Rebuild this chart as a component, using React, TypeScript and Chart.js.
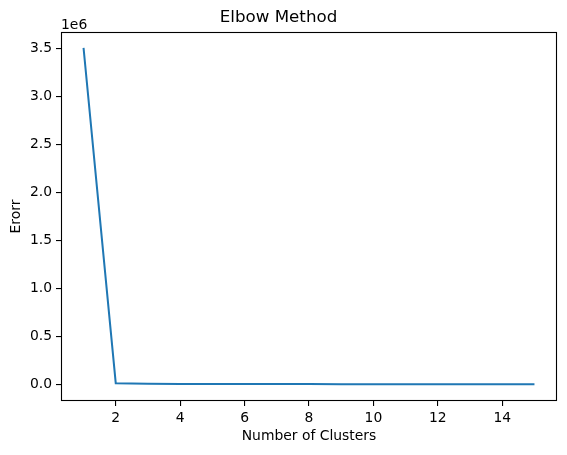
import React, { useEffect, useRef } from "react";
import { Chart, registerables } from "chart.js";

Chart.register(...registerables);

const clusters = [1, 2, 3, 4, 5, 6, 7, 8, 9, 10, 11, 12, 13, 14, 15];
const errors = [3510000, 11000, 5500, 3200, 2200, 1700, 1400, 1150, 950, 800, 700, 620, 550, 490, 440];
const xTicks = [2, 4, 6, 8, 10, 12, 14];
const yTicks = [0, 500000, 1000000, 1500000, 2000000, 2500000, 3000000, 3500000];

const FONT = "'DejaVu Sans', sans-serif";
const FS = 13.9;

const framePlugin = {
  id: "frame",
  afterDraw(chart: any) {
    const { ctx, chartArea } = chart;
    ctx.save();
    ctx.strokeStyle = "#000";
    ctx.lineWidth = 1.1;
    const l = Math.round(chartArea.left) + 0.5;
    const t = Math.round(chartArea.top) + 0.5;
    const r = Math.round(chartArea.right) - 0.5;
    const b = Math.round(chartArea.bottom) - 0.5;
    ctx.strokeRect(l, t, r - l, b - t);
    ctx.fillStyle = "#000";
    ctx.font = `${FS}px ${FONT}`;
    ctx.textAlign = "left";
    ctx.textBaseline = "alphabetic";
    ctx.fillText("1e6", chartArea.left, chartArea.top - 3);
    ctx.restore();
  },
};

export default function App() {
  const ref = useRef<HTMLCanvasElement>(null);
  useEffect(() => {
    if (!ref.current) return;
    const chart = new Chart(ref.current, {
      type: "line",
      data: {
        datasets: [
          {
            data: clusters.map((c, i) => ({ x: c, y: errors[i] })),
            borderColor: "#1f77b4",
            borderWidth: 2,
            pointRadius: 0,
            tension: 0,
            fill: false,
          },
        ],
      },
      options: {
        responsive: false,
        animation: false,
        layout: { padding: { left: 0, right: 10, top: 0, bottom: 0 } },
        plugins: {
          legend: { display: false },
          tooltip: { enabled: false },
          title: {
            display: true,
            text: "Elbow Method",
            color: "#000",
            font: { family: FONT, size: 16.7, weight: "normal" },
            padding: { top: 8, bottom: 4 },
          },
        },
        scales: {
          x: {
            type: "linear",
            min: 0.3,
            max: 15.7,
            afterBuildTicks: (s: any) => {
              s.ticks = xTicks.map((v) => ({ value: v }));
            },
            afterFit: (s: any) => {
              s.height = 54;
            },
            ticks: {
              color: "#000",
              font: { family: FONT, size: FS },
              padding: 4,
              maxRotation: 0,
              autoSkip: false,
              callback: (v: any) => String(v),
            },
            grid: {
              display: true,
              drawOnChartArea: false,
              drawTicks: true,
              tickLength: 5,
              lineWidth: 1.1,
              color: "#000",
            },
            border: { display: false },
            title: {
              display: true,
              text: "Number of Clusters",
              color: "#000",
              font: { family: FONT, size: FS },
              padding: { top: 0, bottom: 10 },
            },
          },
          y: {
            type: "linear",
            min: -175000,
            max: 3675000,
            afterBuildTicks: (s: any) => {
              s.ticks = yTicks.map((v) => ({ value: v }));
            },
            afterFit: (s: any) => {
              s.width = 61;
            },
            ticks: {
              color: "#000",
              font: { family: FONT, size: FS },
              padding: 4,
              autoSkip: false,
              callback: (v: any) => (Number(v) / 1e6).toFixed(1),
            },
            grid: {
              display: true,
              drawOnChartArea: false,
              drawTicks: true,
              tickLength: 5,
              lineWidth: 1.1,
              color: "#000",
            },
            border: { display: false },
            title: {
              display: true,
              text: "Erorr",
              color: "#000",
              font: { family: FONT, size: FS },
              padding: { top: 8, bottom: 0 },
            },
          },
        },
      },
      plugins: [framePlugin],
    } as any);
    return () => chart.destroy();
  }, []);
  return (
    <div style={{ position: "fixed", left: 0, top: 0, width: 567, height: 455, background: "#fff" }}>
      <canvas ref={ref} width={567} height={455} style={{ display: "block" }} />
    </div>
  );
}
